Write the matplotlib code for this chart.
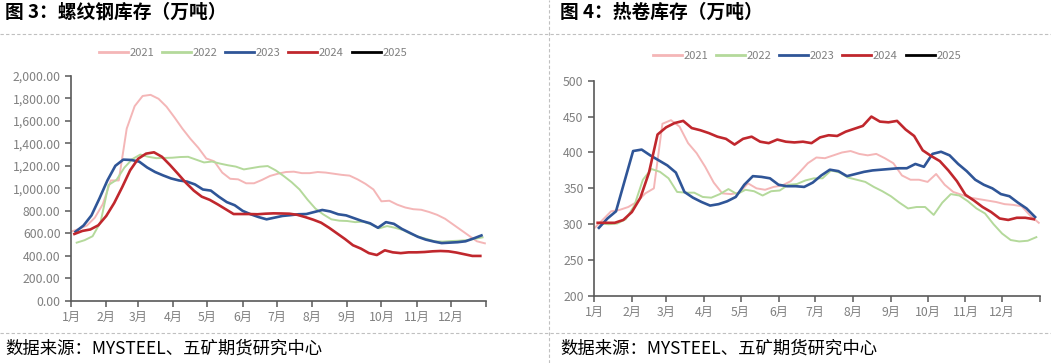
import matplotlib
matplotlib.use('Agg')
import matplotlib.pyplot as plt
from matplotlib.lines import Line2D
import pandas as pd

plt.rcParams['font.family'] = ['Noto Sans CJK SC', 'DejaVu Sans']

years = ['2021', '2022', '2023', '2024', '2025']
colors = ['#F4B6B7', '#B4D99B', '#2F5597', '#C0272D', '#000000']
widths = [1.4, 1.4, 1.9, 1.9, 1.9]
start_dates = ['2021-01-01', '2022-01-06', '2023-01-05', '2024-01-04', '2025-01-02']
month_labels = [f'{m}月' for m in range(1, 13)]

# rebar inventory (10k t), weekly
rebar_2021 = [615, 640, 670, 740, 860, 1070, 1070, 1530, 1730, 1820, 1830, 1795, 1725,
              1630, 1530, 1440, 1360, 1265, 1240, 1140, 1085, 1080, 1045, 1045, 1075,
              1110, 1130, 1145, 1148, 1135, 1135, 1145, 1140, 1130, 1120, 1113, 1080,
              1040, 990, 885, 890, 855, 830, 815, 810, 790, 765, 730, 680, 630, 580,
              530, 512]
rebar_2022 = [518, 540, 575, 700, 1030, 1075, 1185, 1260, 1300, 1280, 1268, 1270, 1272,
              1278, 1280, 1255, 1230, 1238, 1220, 1205, 1193, 1168, 1180, 1192, 1198,
              1160, 1110, 1055, 990, 900, 820, 768, 725, 713, 710, 700, 705, 680, 645,
              665, 650, 630, 595, 570, 550, 530, 527, 532, 535, 540, 552, 565]
rebar_2023 = [615, 670, 760, 910, 1070, 1200, 1255, 1252, 1237, 1185, 1145, 1115, 1088,
              1070, 1060, 1035, 990, 980, 926, 878, 850, 800, 770, 745, 725, 740, 755,
              762, 770, 772, 790, 808, 795, 770, 760, 735, 710, 690, 650, 700, 685, 640,
              605, 570, 545, 528, 514, 518, 522, 530, 555, 582]
rebar_2024 = [595, 622, 635, 672, 755, 870, 1010, 1160, 1262, 1308, 1320, 1280, 1208,
              1130, 1050, 980, 926, 898, 858, 815, 772, 772, 772, 770, 775, 778, 777,
              775, 765, 745, 722, 695, 650, 600, 550, 495, 465, 425, 408, 450, 432, 425,
              432, 432, 435, 441, 444, 441, 430, 415, 400, 400]
rebar_2025 = []

# hot-rolled coil inventory (10k t), weekly
hrc_2021 = [294, 306, 318, 320, 324, 331, 343, 350, 440, 445, 436, 413, 399, 380, 358,
            343, 342, 344, 357, 350, 348, 352, 354, 360, 372, 385, 393, 392, 396, 400,
            402, 398, 396, 398, 392, 385, 368, 362, 362, 359, 370, 355, 345, 341, 337,
            335, 333, 331, 328, 327, 325, 312, 302]
hrc_2022 = [301, 300, 301, 307, 326, 362, 377, 373, 364, 345, 344, 344, 338, 337, 342,
            349, 342, 348, 346, 340, 346, 347, 355, 356, 361, 364, 364, 375, 372, 365,
            362, 359, 352, 346, 339, 330, 322, 324, 324, 313, 330, 342, 340, 332, 322,
            315, 300, 287, 278, 276, 277, 282]
hrc_2023 = [295, 308, 318, 360, 402, 404, 396, 389, 382, 372, 345, 337, 331, 326, 328,
            332, 338, 355, 367, 366, 364, 355, 353, 353, 352, 358, 368, 376, 374, 367,
            370, 373, 375, 376, 377, 378, 378, 384, 380, 398, 401, 396, 384, 374, 362,
            355, 350, 342, 339, 330, 322, 310]
hrc_2024 = [302, 302, 302, 306, 317, 337, 372, 425, 435, 441, 444, 434, 431, 427, 422,
            419, 411, 419, 422, 415, 413, 418, 415, 414, 415, 413, 421, 424, 423, 429,
            433, 437, 450, 443, 442, 444, 432, 423, 403, 395, 388, 375, 360, 341, 333,
            324, 317, 308, 306, 309, 309, 307]
hrc_2025 = []

rebar = [rebar_2021, rebar_2022, rebar_2023, rebar_2024, rebar_2025]
hrc = [hrc_2021, hrc_2022, hrc_2023, hrc_2024, hrc_2025]

month_starts = pd.date_range('2001-01-01', periods=12, freq='MS').dayofyear - 1
TICK_COLOR = '#808080'
SPINE_COLOR = '#595959'


def day_index(start, n):
    d = pd.date_range(start, periods=n, freq='7D')
    return (d - pd.Timestamp(d[0].year, 1, 1)).days if n else []


def draw_panel(ax, series, ylim, yticks, yfmt, legend_xy):
    for vals, year, c, w, s in zip(series, years, colors, widths, start_dates):
        ax.plot(day_index(s, len(vals)), vals, color=c, lw=w, label=year)
    ax.set_xlim(0, 365)
    ax.set_ylim(*ylim)
    ax.set_yticks(yticks)
    ax.set_yticklabels([yfmt(v) for v in yticks])
    ax.set_xticks(list(month_starts) + [365])
    ax.set_xticklabels(month_labels + [''])
    for side in ['top', 'right']:
        ax.spines[side].set_visible(False)
    for side in ['left', 'bottom']:
        ax.spines[side].set_color(SPINE_COLOR)
        ax.spines[side].set_linewidth(1.2)
    ax.tick_params(axis='both', colors=SPINE_COLOR, labelcolor=TICK_COLOR,
                   labelsize=8.8, length=4, width=1.1)
    ax.tick_params(axis='x', pad=3)
    handles = [Line2D([], [], color=c, lw=2) for c in colors]
    fig.legend(handles, years, loc='center', bbox_to_anchor=legend_xy, ncol=5,
               frameon=False, fontsize=8, labelcolor=TICK_COLOR, handlelength=2.6,
               handletextpad=0.15, columnspacing=0.7)


fig = plt.figure(figsize=(10.51, 3.63), dpi=100)
W, H = 1051, 363

ax1 = fig.add_axes([71 / W, (H - 301) / H, 415 / W, 225.3 / H])
draw_panel(ax1, rebar, (0, 2000), list(range(0, 2001, 200)),
           lambda v: f'{v:,.2f}', (253 / W, (H - 53) / H))

ax2 = fig.add_axes([594 / W, (H - 296) / H, 446 / W, 215.3 / H])
draw_panel(ax2, hrc, (200, 500), list(range(200, 501, 50)),
           lambda v: f'{v}', (807 / W, (H - 56) / H))

# titles, separators and source notes
fig.text(5 / W, (H - 12) / H, '图 3：螺纹钢库存（万吨）', fontsize=13.5, fontweight='bold',
         va='center', ha='left')
fig.text(560 / W, (H - 12) / H, '图 4：热卷库存（万吨）', fontsize=13.5, fontweight='bold',
         va='center', ha='left')
for y in [34, 333]:
    fig.add_artist(Line2D([0, 1], [(H - y) / H] * 2, color='#c0c0c0', lw=0.8,
                          ls=(0, (3, 2))))
fig.add_artist(Line2D([549 / W] * 2, [0, 1], color='#c0c0c0', lw=0.8, ls=(0, (3, 2))))
source = '数据来源：MYSTEEL、五矿期货研究中心'
fig.text(5 / W, (H - 349) / H, source, fontsize=12.5, fontweight='medium',
         va='center', ha='left')
fig.text(560 / W, (H - 349) / H, source, fontsize=12.5, fontweight='medium',
         va='center', ha='left')

plt.savefig('out.png', dpi=100)
plt.close()
